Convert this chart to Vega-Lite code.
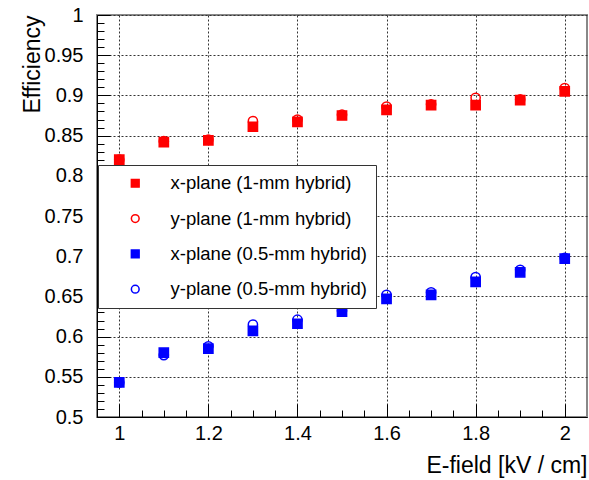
{
  "$schema": "https://vega.github.io/schema/vega-lite/v6.json",
  "width": 490,
  "height": 402,
  "autosize": "none",
  "padding": {"left": 97, "top": 15, "right": 2, "bottom": 63},
  "background": "white",
  "config": {
    "font": "Liberation Sans",
    "view": {"stroke": "#888", "strokeWidth": 2},
    "legend": {
      "orient": "none",
      "legendX": 1,
      "legendY": 150,
      "fillColor": "white",
      "strokeColor": "#333",
      "padding": 9,
      "labelFontSize": 18.5,
      "labelColor": "black",
      "labelOffset": 26,
      "symbolOffset": 19,
      "rowPadding": 16.3,
      "symbolSize": 60,
      "symbolStrokeWidth": 1.5,
      "labelLimit": 400
    }
  },
  "data": {
    "values": [
      {"E": 1.0, "eff": 0.820, "series": "x-plane (1-mm hybrid)"},
      {"E": 1.1, "eff": 0.842, "series": "x-plane (1-mm hybrid)"},
      {"E": 1.2, "eff": 0.844, "series": "x-plane (1-mm hybrid)"},
      {"E": 1.3, "eff": 0.861, "series": "x-plane (1-mm hybrid)"},
      {"E": 1.4, "eff": 0.867, "series": "x-plane (1-mm hybrid)"},
      {"E": 1.5, "eff": 0.875, "series": "x-plane (1-mm hybrid)"},
      {"E": 1.6, "eff": 0.882, "series": "x-plane (1-mm hybrid)"},
      {"E": 1.7, "eff": 0.888, "series": "x-plane (1-mm hybrid)"},
      {"E": 1.8, "eff": 0.888, "series": "x-plane (1-mm hybrid)"},
      {"E": 1.9, "eff": 0.894, "series": "x-plane (1-mm hybrid)"},
      {"E": 2.0, "eff": 0.905, "series": "x-plane (1-mm hybrid)"},
      {"E": 1.0, "eff": 0.820, "series": "y-plane (1-mm hybrid)"},
      {"E": 1.1, "eff": 0.843, "series": "y-plane (1-mm hybrid)"},
      {"E": 1.2, "eff": 0.845, "series": "y-plane (1-mm hybrid)"},
      {"E": 1.3, "eff": 0.868, "series": "y-plane (1-mm hybrid)"},
      {"E": 1.4, "eff": 0.870, "series": "y-plane (1-mm hybrid)"},
      {"E": 1.5, "eff": 0.876, "series": "y-plane (1-mm hybrid)"},
      {"E": 1.6, "eff": 0.886, "series": "y-plane (1-mm hybrid)"},
      {"E": 1.7, "eff": 0.889, "series": "y-plane (1-mm hybrid)"},
      {"E": 1.8, "eff": 0.897, "series": "y-plane (1-mm hybrid)"},
      {"E": 1.9, "eff": 0.895, "series": "y-plane (1-mm hybrid)"},
      {"E": 2.0, "eff": 0.909, "series": "y-plane (1-mm hybrid)"},
      {"E": 1.0, "eff": 0.543, "series": "x-plane (0.5-mm hybrid)"},
      {"E": 1.1, "eff": 0.580, "series": "x-plane (0.5-mm hybrid)"},
      {"E": 1.2, "eff": 0.585, "series": "x-plane (0.5-mm hybrid)"},
      {"E": 1.3, "eff": 0.607, "series": "x-plane (0.5-mm hybrid)"},
      {"E": 1.4, "eff": 0.616, "series": "x-plane (0.5-mm hybrid)"},
      {"E": 1.5, "eff": 0.631, "series": "x-plane (0.5-mm hybrid)"},
      {"E": 1.6, "eff": 0.647, "series": "x-plane (0.5-mm hybrid)"},
      {"E": 1.7, "eff": 0.652, "series": "x-plane (0.5-mm hybrid)"},
      {"E": 1.8, "eff": 0.668, "series": "x-plane (0.5-mm hybrid)"},
      {"E": 1.9, "eff": 0.680, "series": "x-plane (0.5-mm hybrid)"},
      {"E": 2.0, "eff": 0.697, "series": "x-plane (0.5-mm hybrid)"},
      {"E": 1.0, "eff": 0.543, "series": "y-plane (0.5-mm hybrid)"},
      {"E": 1.1, "eff": 0.577, "series": "y-plane (0.5-mm hybrid)"},
      {"E": 1.2, "eff": 0.588, "series": "y-plane (0.5-mm hybrid)"},
      {"E": 1.3, "eff": 0.615, "series": "y-plane (0.5-mm hybrid)"},
      {"E": 1.4, "eff": 0.621, "series": "y-plane (0.5-mm hybrid)"},
      {"E": 1.5, "eff": 0.632, "series": "y-plane (0.5-mm hybrid)"},
      {"E": 1.6, "eff": 0.652, "series": "y-plane (0.5-mm hybrid)"},
      {"E": 1.7, "eff": 0.655, "series": "y-plane (0.5-mm hybrid)"},
      {"E": 1.8, "eff": 0.674, "series": "y-plane (0.5-mm hybrid)"},
      {"E": 1.9, "eff": 0.683, "series": "y-plane (0.5-mm hybrid)"},
      {"E": 2.0, "eff": 0.698, "series": "y-plane (0.5-mm hybrid)"}
    ]
  },
  "mark": {"type": "point", "size": 85, "strokeWidth": 1.5, "opacity": 1},
  "encoding": {
    "x": {
      "field": "E",
      "type": "quantitative",
      "scale": {"domain": [0.95, 2.05], "nice": false, "zero": false},
      "axis": {
        "title": "E-field [kV / cm]",
        "titleFontSize": 23,
        "titleFontWeight": "normal",
        "titleColor": "black",
        "titleAnchor": "end",
        "titlePadding": 5,
        "values": [1.0, 1.05, 1.1, 1.15, 1.2, 1.25, 1.3, 1.35, 1.4, 1.45, 1.5, 1.55, 1.6, 1.65, 1.7, 1.75, 1.8, 1.85, 1.9, 1.95, 2.0],
        "labelExpr": "abs(round(datum.value*5)-datum.value*5)<0.001 ? format(datum.value,'~g') : ''",
        "labelFontSize": 20,
        "labelColor": "black",
        "labelPadding": 19,
        "labelFlush": false,
        "labelOverlap": false,
        "tickSize": {"condition": {"test": "abs(round(datum.value*5)-datum.value*5)<0.001", "value": -13}, "value": -7},
        "tickColor": "black",
        "domainColor": "black",
        "grid": true,
        "gridDash": [2, 2],
        "gridColor": "#333",
        "gridOpacity": {"condition": {"test": "abs(round(datum.value*5)-datum.value*5)<0.001", "value": 1}, "value": 0}
      }
    },
    "y": {
      "field": "eff",
      "type": "quantitative",
      "scale": {"domain": [0.5, 1.0], "nice": false, "zero": false},
      "axis": {
        "title": "Efficiency",
        "titleFontSize": 23,
        "titleFontWeight": "normal",
        "titleColor": "black",
        "titleAnchor": "end",
        "titlePadding": 0,
        "values": [0.5, 0.51, 0.52, 0.53, 0.54, 0.55, 0.56, 0.57, 0.58, 0.59, 0.6, 0.61, 0.62, 0.63, 0.64, 0.65, 0.66, 0.67, 0.68, 0.69, 0.7, 0.71, 0.72, 0.73, 0.74, 0.75, 0.76, 0.77, 0.78, 0.79, 0.8, 0.81, 0.82, 0.83, 0.84, 0.85, 0.86, 0.87, 0.88, 0.89, 0.9, 0.91, 0.92, 0.93, 0.94, 0.95, 0.96, 0.97, 0.98, 0.99, 1.0],
        "labelExpr": "abs(round(datum.value*20)-datum.value*20)<0.001 ? format(datum.value,'~g') : ''",
        "labelFontSize": 20,
        "labelColor": "black",
        "labelPadding": 27,
        "labelFlush": false,
        "labelOverlap": false,
        "tickSize": {"condition": {"test": "abs(round(datum.value*20)-datum.value*20)<0.001", "value": -13}, "value": -7},
        "tickColor": "black",
        "domainColor": "black",
        "grid": true,
        "gridDash": [2, 2],
        "gridColor": "#333",
        "gridOpacity": {"condition": {"test": "abs(round(datum.value*20)-datum.value*20)<0.001", "value": 1}, "value": 0}
      }
    },
    "shape": {
      "field": "series",
      "type": "nominal",
      "scale": {
        "domain": ["x-plane (1-mm hybrid)", "y-plane (1-mm hybrid)", "x-plane (0.5-mm hybrid)", "y-plane (0.5-mm hybrid)"],
        "range": ["square", "circle", "square", "circle"]
      },
      "legend": {"title": null}
    },
    "stroke": {
      "field": "series",
      "type": "nominal",
      "scale": {
        "domain": ["x-plane (1-mm hybrid)", "y-plane (1-mm hybrid)", "x-plane (0.5-mm hybrid)", "y-plane (0.5-mm hybrid)"],
        "range": ["#ff0000", "#ff0000", "#0000ff", "#0000ff"]
      },
      "legend": {"title": null}
    },
    "fill": {
      "field": "series",
      "type": "nominal",
      "scale": {
        "domain": ["x-plane (1-mm hybrid)", "y-plane (1-mm hybrid)", "x-plane (0.5-mm hybrid)", "y-plane (0.5-mm hybrid)"],
        "range": ["#ff0000", "transparent", "#0000ff", "transparent"]
      },
      "legend": {"title": null}
    }
  }
}
